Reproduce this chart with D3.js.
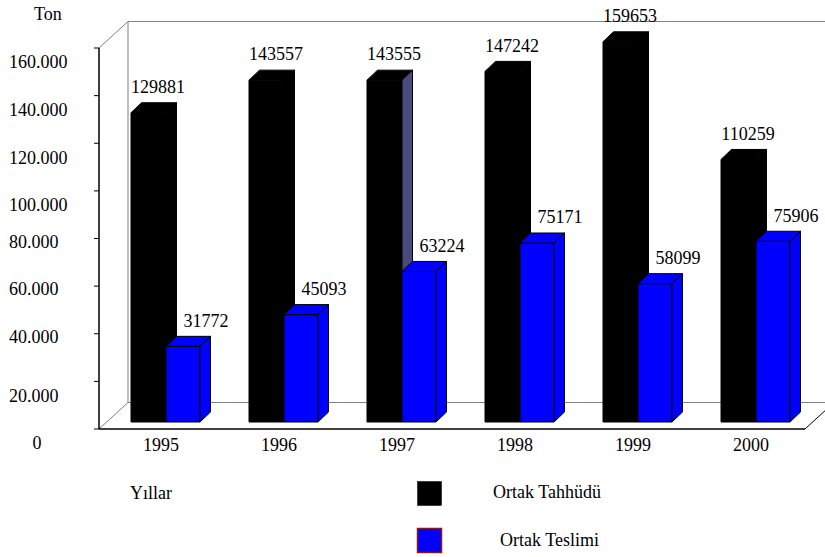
<!DOCTYPE html>
<meta charset="utf-8">
<style>
  body { margin: 0; background: #fff; }
  #chart svg { display: block; }
</style>
<body>
<div id="chart"></div>
<script src="https://d3js.org/d3.v7.min.js"></script>
<script>
  // data
  const years = ["1995", "1996", "1997", "1998", "1999", "2000"];
  const tahhudu = [129881, 143557, 143555, 147242, 159653, 110259];
  const teslimi = [31772, 45093, 63224, 75171, 58099, 75906];
  const yTicks = [0, 20000, 40000, 60000, 80000, 100000, 120000, 140000, 160000];
  const seriesNames = ["Ortak Tahhüdü", "Ortak Teslimi"];

  const W = 825, H = 557;
  const plotLeft = 99, plotRight = 807, plotBottom = 429, plotTop = 48;
  const wall = { dx: 29, dy: -26.5 };   // depth of the box
  const barInset = -7;                   // bars sit a bit back on the floor
  const bd = { dx: 10.5, dy: -10 };     // depth of each bar
  const barW = 35, blueW = 34;

  const svg = d3.select("#chart").append("svg")
    .attr("width", W).attr("height", H)
    .attr("font-family", "'Liberation Serif', Tinos, 'Times New Roman', 'DejaVu Serif', serif")
    .attr("font-size", 18);

  const y = d3.scaleLinear().domain([0, 160000]).range([plotBottom, plotTop]);
  const x = d3.scaleBand().domain(years).range([plotLeft, plotRight]);

  const fmt = d3.formatLocale({ decimal: ",", thousands: ".", grouping: [3], currency: ["", ""] }).format(",");

  // box: back wall, floor, left wall
  const grey = "#808080";
  const g = svg.append("g");
  const line = (x1, y1, x2, y2, c, w) => g.append("line")
    .attr("x1", x1).attr("y1", y1).attr("x2", x2).attr("y2", y2)
    .attr("stroke", c).attr("stroke-width", w || 1);

  line(plotLeft + wall.dx, y(160000) + wall.dy, plotRight + wall.dx, y(160000) + wall.dy, grey);
  line(plotLeft + wall.dx, y(160000) + wall.dy, plotLeft + wall.dx, y(0) + wall.dy, grey);
  line(plotLeft + wall.dx, y(0) + wall.dy, plotRight + wall.dx + 20, y(0) + wall.dy, grey);
  line(plotLeft, y(160000), plotLeft + wall.dx, y(160000) + wall.dy, grey);
  line(plotLeft, y(0), plotLeft + wall.dx, y(0) + wall.dy, grey);
  line(plotRight - 2, y(0), plotRight - 2 + wall.dx, y(0) + wall.dy, "#000");
  line(plotLeft, y(0), plotRight - 2, y(0), "#000", 1.5);

  // value axis
  line(plotLeft, y(0), plotLeft, y(160000), "#000", 1.5);
  g.selectAll(".tick").data(yTicks).join("line")
    .attr("x1", plotLeft - 5).attr("x2", plotLeft)
    .attr("y1", d => y(d)).attr("y2", d => y(d))
    .attr("stroke", "#000");
  svg.selectAll(".ylab").data(yTicks).join("text")
    .attr("class", "ylab")
    .attr("x", d => d === 0 ? 37 : 9)
    .attr("text-anchor", d => d === 0 ? "middle" : "start")
    .attr("y", d => y(d) + (d >= 40000 && d <= 80000 ? 3 : 14))
    .attr("dy", "0.35em")
    .text(d => fmt(d));

  svg.append("text").attr("x", 34).attr("y", 14).attr("dy", "0.35em").text("Ton");

  // 3d bar
  function bar(x0, w, v, fill, sideFill) {
    const yb = y(0) + barInset, yt = y(v) + barInset;
    const pts = (a) => a.map(p => p.join(",")).join(" ");
    const bg = svg.append("g").attr("stroke", "#000").attr("stroke-width", 1).attr("stroke-linejoin", "round");
    bg.append("polygon").attr("fill", fill)
      .attr("points", pts([[x0, yb], [x0, yt], [x0 + w, yt], [x0 + w, yb]]));
    bg.append("polygon").attr("fill", fill)
      .attr("points", pts([[x0, yt], [x0 + bd.dx, yt + bd.dy], [x0 + w + bd.dx, yt + bd.dy], [x0 + w, yt]]));
    bg.append("polygon").attr("fill", sideFill)
      .attr("points", pts([[x0 + w, yt], [x0 + w + bd.dx, yt + bd.dy], [x0 + w + bd.dx, yb + bd.dy], [x0 + w, yb]]));
    return yt + bd.dy;
  }

  years.forEach((yr, i) => {
    const bx = x(yr) + 32;
    const t1 = bar(bx, barW, tahhudu[i], "#000", yr === "1997" ? "#4a4a7c" : "#000");
    const t2 = bar(bx + barW, blueW, teslimi[i], "#0000ff", "#0000ff");

    svg.append("text").attr("x", bx + 27).attr("y", t1 - 16).attr("dy", "0.35em")
      .attr("text-anchor", "middle").text(tahhudu[i]);
    svg.append("text").attr("x", bx + barW + 40).attr("y", t2 - 16).attr("dy", "0.35em")
      .attr("text-anchor", "middle").text(teslimi[i]);
    svg.append("text").attr("x", bx + 30).attr("y", 445).attr("dy", "0.35em")
      .attr("text-anchor", "middle").text(yr);
  });

  // legend
  svg.append("text").attr("x", 130).attr("y", 493).attr("dy", "0.35em").text("Yıllar");
  const legColors = ["#000", "#0000ff"];
  const legStroke = ["#000", "#8b1a1a"];
  seriesNames.forEach((n, i) => {
    svg.append("rect").attr("x", 417.5).attr("y", 481.5 + i * 47).attr("width", 24).attr("height", 24)
      .attr("fill", legColors[i]).attr("stroke", legStroke[i]).attr("stroke-width", i ? 1.5 : 0.5);
    svg.append("text").attr("x", 493 + i * 7).attr("y", 492 + i * 48).attr("dy", "0.35em").text(n);
  });
</script>
</body>
